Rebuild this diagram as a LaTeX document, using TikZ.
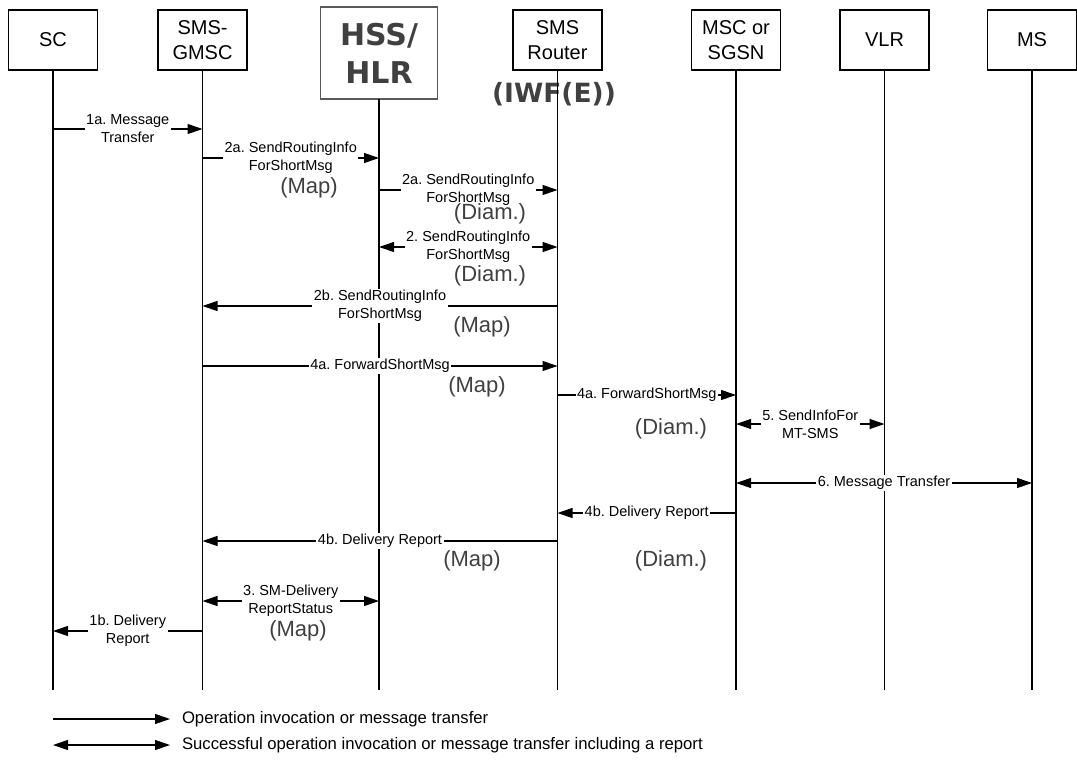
\documentclass[tikz,border=0pt]{standalone}
\usepackage{fontspec}
\setmainfont{Liberation Sans}
\newfontfamily\dejavu{DejaVu Sans}
\usetikzlibrary{arrows.meta}
\definecolor{txtgray}{HTML}{404040}
\definecolor{boxgray}{HTML}{5A5A5A}
\frenchspacing
\begin{document}
\begin{tikzpicture}[x=1pt,y=-1pt,
  every node/.style={inner sep=0pt, outer sep=0pt},
  ent/.style={draw, line width=1.2pt, minimum width=89pt, minimum height=60pt, align=center, font=\fontsize{20}{25}\selectfont},
  hss/.style={draw=boxgray, line width=1.8pt, minimum width=117pt, minimum height=92pt, align=center, text=txtgray, font=\dejavu\bfseries\fontsize{30}{38}\selectfont},
  life/.style={line width=1.2pt},
  msg/.style={line width=1.1pt, -{Triangle[length=15pt,width=10pt]}},
  dmsg/.style={line width=1.1pt, {Triangle[length=15pt,width=10pt]}-{Triangle[length=15pt,width=10pt]}},
  lbl/.style={fill=white, inner xsep=1.5pt, inner ysep=1pt, align=center, font=\fontsize{14.5}{18}\selectfont},
  proto/.style={text=txtgray, font=\fontsize{22}{26}\selectfont},
  legend/.style={anchor=west, font=\fontsize{16.7}{19}\selectfont}
]
\useasboundingbox (0,0) rectangle (1077,764);

% entities
\node[ent] (SC)   at (53,40)    {SC};
\node[ent] (GMSC) at (202.5,40) {SMS-\\GMSC};
\node[hss] (HLR)  at (379,53)   {HSS/\\HLR};
\node[ent] (RTR)  at (557.5,40) {SMS\\Router};
\node[ent] (MSC)  at (736,40)   {MSC or\\SGSN};
\node[ent] (VLR)  at (884.5,40) {VLR};
\node[ent] (MS)   at (1032,40)  {MS};

\node[text=txtgray, font=\dejavu\bfseries\fontsize{26.5}{30}\selectfont] (IWF) at (554,94) {(IWF(E))};

% lifelines
\foreach \n in {SC,GMSC,HLR,RTR,MSC,VLR,MS}
  \draw[life] (\n.south) -- (\n |- 0,690);

% messages
\draw[msg]  (SC |- 0,129)   -- (GMSC |- 0,129) node[midway,lbl] (m1a) {1a. Message\\Transfer};
\draw[msg]  (GMSC |- 0,158) -- (HLR |- 0,158)  node[midway,lbl] (m2a) {2a. SendRoutingInfo\\ForShortMsg};
\draw[msg]  (HLR |- 0,190)  -- (RTR |- 0,190)  node[midway,lbl] (m2b) {2a. SendRoutingInfo\\ForShortMsg};
\draw[dmsg] (HLR |- 0,247)  -- (RTR |- 0,247)  node[midway,lbl] (m2)  {2. SendRoutingInfo\\ForShortMsg};
\draw[msg]  (RTR |- 0,306)  -- (GMSC |- 0,306) node[midway,lbl] (m2r) {2b. SendRoutingInfo\\ForShortMsg};
\draw[msg]  (GMSC |- 0,366) -- (RTR |- 0,366)  node[midway,lbl] (m4a) {4a. ForwardShortMsg};
\draw[msg]  (RTR |- 0,395)  -- (MSC |- 0,395)  node[midway,lbl] (m4b) {4a. ForwardShortMsg};
\draw[dmsg] (MSC |- 0,424)  -- (VLR |- 0,424)  node[midway,lbl] (m5)  {5. SendInfoFor\\MT-SMS};
\draw[dmsg] (MSC |- 0,483)  -- (MS |- 0,483)   node[midway,lbl] (m6)  {6. Message Transfer};
\draw[msg]  (MSC |- 0,513)  -- (RTR |- 0,513)  node[midway,lbl] (m4c) {4b. Delivery Report};
\draw[msg]  (RTR |- 0,541)  -- (GMSC |- 0,541) node[midway,lbl] (m4d) {4b. Delivery Report};
\draw[dmsg] (GMSC |- 0,601) -- (HLR |- 0,601)  node[midway,lbl] (m3)  {3. SM-Delivery\\ReportStatus};
\draw[msg]  (GMSC |- 0,631) -- (SC |- 0,631)   node[midway,lbl] (m1b) {1b. Delivery\\Report};

% protocol annotations
\node[proto] (map1)  at (309,188) {(Map)};
\node[proto] (diam1) at (490,214) {(Diam.)};
\node[proto] (diam2) at (490,276) {(Diam.)};
\node[proto] (map2)  at (482,327) {(Map)};
\node[proto] (map3)  at (477,387) {(Map)};
\node[proto] (diam3) at (671,429) {(Diam.)};
\node[proto] (map4)  at (472,561) {(Map)};
\node[proto] (diam4) at (671,561) {(Diam.)};
\node[proto] (map5)  at (298,631) {(Map)};

% legend
\node[legend] (L1t) at (182,719) {Operation invocation or message transfer};
\node[legend] (L2t) at (182,745) {Successful operation invocation or message transfer including a report};
\coordinate (L1s) at (53,719);
\coordinate (L2s) at (53,745);
\draw[msg]  (L1s) -- ([xshift=-12pt]L1t.west);
\draw[dmsg] (L2s) -- ([xshift=-12pt]L2t.west);
\end{tikzpicture}
\end{document}
